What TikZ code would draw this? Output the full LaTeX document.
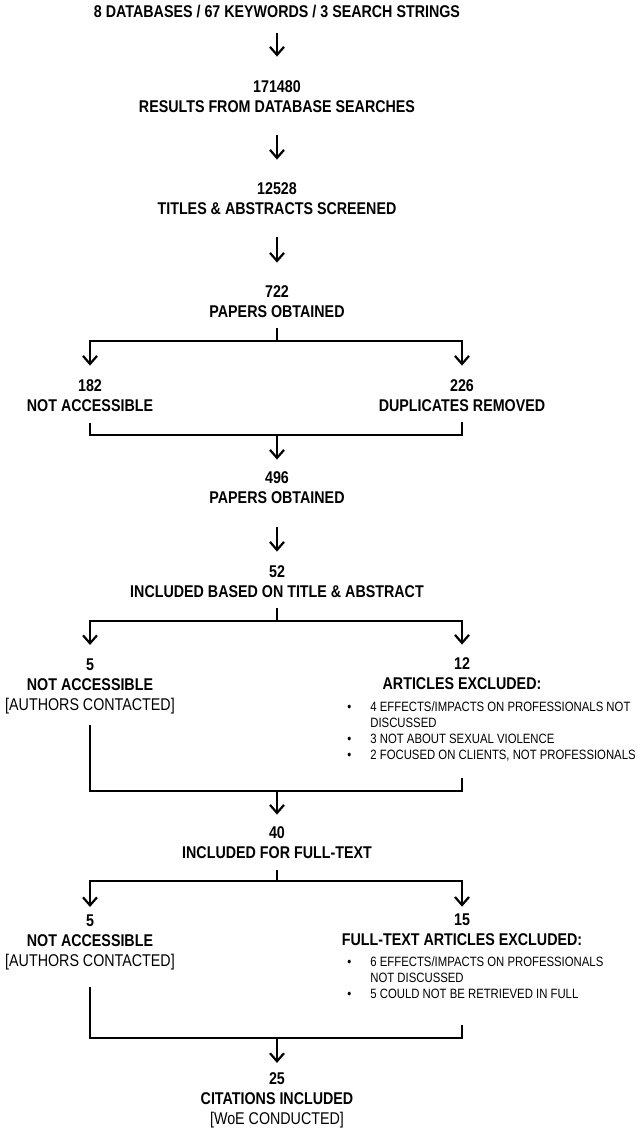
\documentclass[tikz,border=0pt]{standalone}
\usepackage{fontspec}
\setmainfont{Liberation Sans}[FakeStretch=0.84]
\usetikzlibrary{arrows.meta, positioning}

\begin{document}
\begin{tikzpicture}[x=0.5pt, y=-0.5pt,
            box/.style={align=center, inner sep=0pt,
                        font=\fontsize{8.5}{10}\selectfont\bfseries},
            lst/.style={align=left, inner sep=0pt, anchor=north west,
                        font=\fontsize{6.75}{8}\selectfont},
            line/.style={draw, line width=1.1pt},
            arr/.style={line, -{Straight Barb[length=4pt, width=7pt]}}]
            \useasboundingbox (0,0) rectangle (640,1139);
            \node[box] (s0) at (277,12) {8 DATABASES / 67 KEYWORDS / 3 SEARCH STRINGS};
            \node[box] (s1) at (277,97) {171480\\RESULTS FROM DATABASE SEARCHES};
            \node[box] (s2) at (277,199) {12528\\TITLES \& ABSTRACTS SCREENED};
            \node[box] (s3) at (277,302) {722\\PAPERS OBTAINED};
            \node[box] (na1) at (90,396) {182\\NOT ACCESSIBLE};
            \node[box] (ex1) at (462,396) {226\\DUPLICATES REMOVED};
            \node[box] (s4) at (277,488) {496\\PAPERS OBTAINED};
            \node[box] (s5) at (277,582) {52\\INCLUDED BASED ON TITLE \& ABSTRACT};
            \node[box] (na2) at (90,686)
              {5\\NOT ACCESSIBLE\\{\mdseries [AUTHORS CONTACTED]}};
            \node[box] (ex2) at (462,674) {12\\ARTICLES EXCLUDED:};
            \node[lst] (ls2) at (347,701)
              {\makebox[11.5pt][l]{\textbullet}4 EFFECTS/IMPACTS ON PROFESSIONALS NOT\\
               \hspace*{11.5pt}DISCUSSED\\
               \makebox[11.5pt][l]{\textbullet}3 NOT ABOUT SEXUAL VIOLENCE\\
               \makebox[11.5pt][l]{\textbullet}2 FOCUSED ON CLIENTS, NOT PROFESSIONALS};
            \node[box] (s6) at (277,843) {40\\INCLUDED FOR FULL-TEXT};
            \node[box] (na3) at (90,942)
              {5\\NOT ACCESSIBLE\\{\mdseries [AUTHORS CONTACTED]}};
            \node[box] (ex3) at (462,930) {15\\FULL-TEXT ARTICLES EXCLUDED:};
            \node[lst] (ls3) at (347,956)
              {\makebox[11.5pt][l]{\textbullet}6 EFFECTS/IMPACTS ON PROFESSIONALS\\
               \hspace*{11.5pt}NOT DISCUSSED\\
               \makebox[11.5pt][l]{\textbullet}5 COULD NOT BE RETRIEVED IN FULL};
            \node[box] (s7) at (277,1100)
              {25\\CITATIONS INCLUDED\\{\mdseries [WoE CONDUCTED]}};
            \coordinate (sp1) at (277,341);
            \coordinate (j1) at (277,435);
            \coordinate (sp2) at (277,621);
            \coordinate (j2) at (277,791);
            \coordinate (sp3) at (277,881);
            \coordinate (j3) at (277,1038);
            \draw[arr, shorten <=7pt, shorten >=12pt] (s0) -- (s1);
            \draw[arr, shorten <=11pt, shorten >=11.5pt] (s1) -- (s2);
            \draw[arr, shorten <=11pt, shorten >=11.5pt] (s2) -- (s3);
            \draw[line, shorten <=5pt] (s3) -- (sp1);
            \draw[arr, shorten >=7pt] (sp1) -| (na1);
            \draw[arr, shorten >=7pt] (sp1) -| (ex1);
            \draw[line] (na1.south) ++(0,11) |- (j1 -| ex1) -- ++(0,-13);
            \draw[arr, shorten >=6pt] (j1) -- (s4);
            \draw[arr, shorten <=11.5pt, shorten >=7pt] (s4) -- (s5);
            \draw[line, shorten <=5pt] (s5) -- (sp2);
            \draw[arr, shorten >=6.5pt] (sp2) -| (na2);
            \draw[arr, shorten >=6.5pt] (sp2) -| (ex2);
            \draw[line] (na2.south) ++(0,11) |- (j2 -| ex2) -- ++(0,-13);
            \draw[arr, shorten >=6pt] (j2) -- (s6);
            \draw[line, shorten <=5.5pt] (s6) -- (sp3);
            \draw[arr, shorten >=3.5pt] (sp3) -| (na3);
            \draw[arr, shorten >=3.5pt] (sp3) -| (ex3);
            \draw[line] (na3.south) ++(0,17) |- (j3 -| ex3) -- ++(0,-13);
            \draw[arr, shorten >=4.5pt] (j3) -- (s7);
          \end{tikzpicture}
\end{document}
